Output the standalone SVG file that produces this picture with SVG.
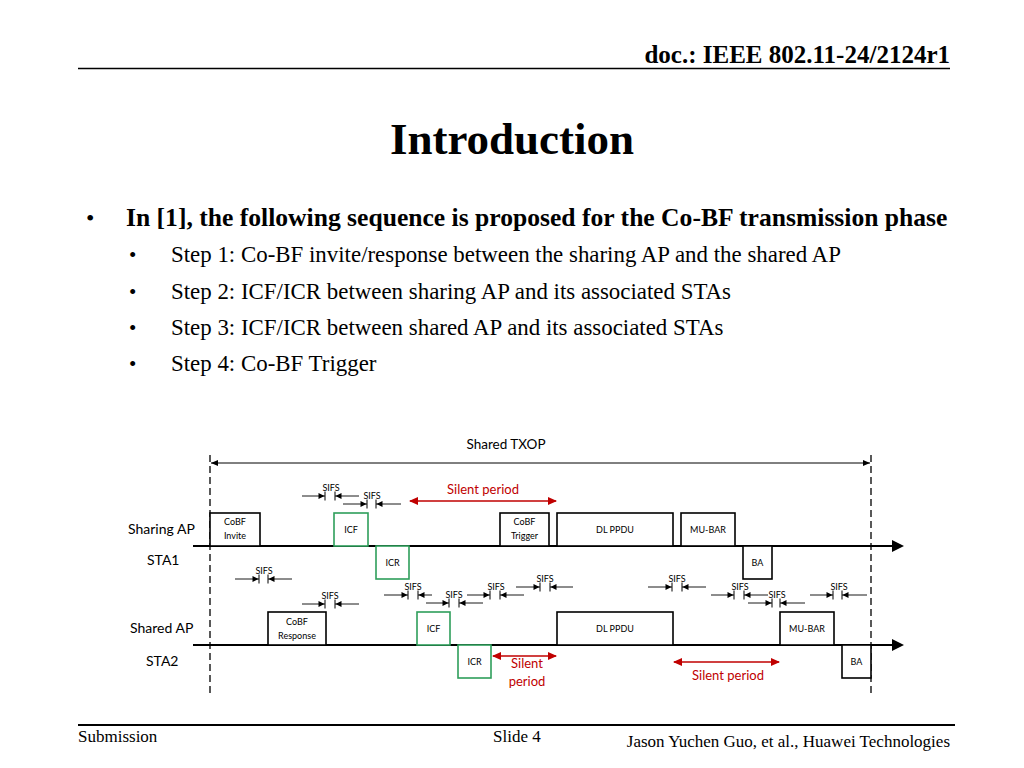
<svg xmlns="http://www.w3.org/2000/svg" width="1024" height="768" viewBox="0 0 1024 768">
<style>
.tm{font-family:"Liberation Serif","Times New Roman",serif;fill:#000}
.df{font-family:Lato,"Liberation Sans",sans-serif;fill:#000}
.bx{fill:#fff;stroke:#000;stroke-width:1.6}
.gb{fill:#fff;stroke:#2e9e5b;stroke-width:1.6}
.bl{font-size:9px;text-anchor:middle}
.sf{font-size:9px;text-anchor:middle}
.sl{stroke:#000;stroke-width:0.9;fill:none;marker-end:url(#sifs)}
.red{fill:#c00000;font-size:13px;text-anchor:middle}
.ra{stroke:#c00000;stroke-width:1.3;fill:none;marker-start:url(#rah);marker-end:url(#rah)}
.tl{stroke:#000;stroke-width:2;fill:none;marker-end:url(#big)}
.dash{stroke:#000;stroke-width:1.3;stroke-dasharray:7,4;fill:none}
</style>
<defs>
<marker id="sifs" markerUnits="userSpaceOnUse" markerWidth="12" markerHeight="12" refX="8.5" refY="6" orient="auto" viewBox="0 0 12 12" overflow="visible">
<path d="M2,3 L8,6 L2,9 z" fill="#000"/>
<line x1="8.5" y1="1.5" x2="8.5" y2="10.5" stroke="#000" stroke-width="1"/>
</marker>
<marker id="rah" markerUnits="userSpaceOnUse" markerWidth="9" markerHeight="8" refX="8" refY="4" orient="auto-start-reverse" viewBox="0 0 9 8">
<path d="M0,0 L9,4 L0,8 z" fill="#c00000"/>
</marker>
<marker id="tx" markerUnits="userSpaceOnUse" markerWidth="7" markerHeight="6" refX="7" refY="3" orient="auto-start-reverse" viewBox="0 0 7 6">
<path d="M0,0 L7,3 L0,6 z" fill="#000"/>
</marker>
<marker id="big" markerUnits="userSpaceOnUse" markerWidth="12" markerHeight="12" refX="1" refY="6" orient="auto" viewBox="0 0 12 12">
<path d="M0,0 L12,6 L0,12 z" fill="#000"/>
</marker>
</defs>
<rect width="1024" height="768" fill="#fff"/>

<!-- slide header / text -->
<g id="header">
<text class="tm" x="950" y="63" font-size="25" font-weight="bold" text-anchor="end">doc.: IEEE 802.11-24/2124r1</text>
<line x1="78" y1="68.5" x2="950" y2="68.5" stroke="#000" stroke-width="1.5"/>
</g>
<g id="title">
<text class="tm" x="512" y="154" font-size="45" font-weight="bold" text-anchor="middle">Introduction</text>
</g>
<g id="bullets">
<text class="tm" x="86" y="226" font-size="24">•</text>
<text class="tm" x="126" y="226" font-size="25.6" font-weight="bold">In [1], the following sequence is proposed for the Co-BF transmission phase</text>
<text class="tm" x="129" y="262" font-size="21">•</text>
<text class="tm" x="171" y="262" font-size="22.9">Step 1: Co-BF invite/response between the sharing AP and the shared AP</text>
<text class="tm" x="129" y="299" font-size="21">•</text>
<text class="tm" x="171" y="299" font-size="22.9">Step 2: ICF/ICR between sharing AP and its associated STAs</text>
<text class="tm" x="129" y="335" font-size="21">•</text>
<text class="tm" x="171" y="335" font-size="22.9">Step 3: ICF/ICR between shared AP and its associated STAs</text>
<text class="tm" x="129" y="371" font-size="21">•</text>
<text class="tm" x="171" y="371" font-size="22.9">Step 4: Co-BF Trigger</text>
</g>
<g id="footer">
<line x1="78" y1="725" x2="955" y2="725" stroke="#000" stroke-width="2"/>
<text class="tm" x="78" y="742" font-size="17">Submission</text>
<text class="tm" x="493" y="742" font-size="17">Slide 4</text>
<text class="tm" x="950" y="747" font-size="17" text-anchor="end">Jason Yuchen Guo, et al., Huawei Technologies</text>
</g>

<!-- diagram -->
<g id="txop">
<text class="df" x="506" y="449" font-size="13.5" text-anchor="middle">Shared TXOP</text>
<line x1="211" y1="463" x2="870" y2="463" stroke="#000" stroke-width="1" marker-start="url(#tx)" marker-end="url(#tx)"/>
</g>
<g id="boundaries">
<line class="dash" x1="210" y1="455" x2="210" y2="693"/>
<line class="dash" x1="871" y1="455" x2="871" y2="693"/>
</g>
<g id="labels">
<text class="df" x="128" y="534" font-size="14">Sharing AP</text>
<text class="df" x="147" y="565" font-size="14">STA1</text>
<text class="df" x="130" y="633" font-size="14">Shared AP</text>
<text class="df" x="146" y="666" font-size="14">STA2</text>
</g>

<g id="timelines">
<line class="tl" x1="193" y1="546" x2="893" y2="546"/>
<line class="tl" x1="193" y1="645" x2="893" y2="645"/>
</g>

<g id="sharing-cobf-invite"><rect class="bx" x="210" y="513" width="50" height="33"/><text class="df bl" x="235" y="525">CoBF</text><text class="df bl" x="235" y="539">Invite</text></g>
<g id="sharing-icf"><rect class="gb" x="334" y="513" width="34" height="33"/><text class="df bl" x="351" y="533">ICF</text></g>
<g id="sharing-cobf-trigger"><rect class="bx" x="500" y="513" width="49" height="33"/><text class="df bl" x="524.5" y="525">CoBF</text><text class="df bl" x="524.5" y="539">Trigger</text></g>
<g id="sharing-dl-ppdu"><rect class="bx" x="557" y="513" width="116" height="33"/><text class="df bl" x="615" y="533">DL PPDU</text></g>
<g id="sharing-mu-bar"><rect class="bx" x="681" y="513" width="54" height="33"/><text class="df bl" x="708" y="533">MU-BAR</text></g>

<g id="sta1-icr"><rect class="gb" x="376" y="546" width="33" height="33"/><text class="df bl" x="392.5" y="566">ICR</text></g>
<g id="sta1-ba"><rect class="bx" x="743" y="546" width="29" height="33"/><text class="df bl" x="757.5" y="566">BA</text></g>

<g id="shared-cobf-response"><rect class="bx" x="268" y="612" width="58" height="33"/><text class="df bl" x="297" y="625">CoBF</text><text class="df bl" x="297" y="639">Response</text></g>
<g id="shared-icf"><rect class="gb" x="417" y="612" width="33" height="33"/><text class="df bl" x="433.5" y="632">ICF</text></g>
<g id="shared-dl-ppdu"><rect class="bx" x="557" y="612" width="116" height="33"/><text class="df bl" x="615" y="632">DL PPDU</text></g>
<g id="shared-mu-bar"><rect class="bx" x="780" y="612" width="54" height="33"/><text class="df bl" x="807" y="632">MU-BAR</text></g>

<g id="sta2-icr"><rect class="gb" x="458" y="645" width="33" height="33"/><text class="df bl" x="474.5" y="665">ICR</text></g>
<g id="sta2-ba"><rect class="bx" x="842" y="645" width="29" height="33"/><text class="df bl" x="856.5" y="665">BA</text></g>

<g id="silent-periods">
<text class="df red" x="483" y="494">Silent period</text>
<path class="ra" d="M410,501 H556"/>
<path class="ra" d="M493,656 H556"/>
<text class="df red" x="527" y="668" font-size="13.5">Silent</text>
<text class="df red" x="527" y="686" font-size="13.5">period</text>
<path class="ra" d="M674,662 H779"/>
<text class="df red" x="728" y="680">Silent period</text>
</g>

<g id="sifs-markers">
<text class="df sf" x="331" y="491">SIFS</text><path class="sl" d="M302,496 H325"/><path class="sl" d="M359,496 H335"/>
<text class="df sf" x="372" y="499">SIFS</text><path class="sl" d="M343,504 H367"/><path class="sl" d="M401,504 H376"/>
<text class="df sf" x="264" y="574">SIFS</text><path class="sl" d="M235,579 H259"/><path class="sl" d="M292,579 H268"/>
<text class="df sf" x="330" y="599">SIFS</text><path class="sl" d="M302,604 H325"/><path class="sl" d="M359,604 H335"/>
<text class="df sf" x="413" y="590">SIFS</text><path class="sl" d="M384,595 H408"/><path class="sl" d="M432,595 H418"/>
<text class="df sf" x="454" y="598">SIFS</text><path class="sl" d="M426,603 H449"/><path class="sl" d="M483,603 H459"/>
<text class="df sf" x="496" y="590">SIFS</text><path class="sl" d="M467,595 H490"/><path class="sl" d="M524,595 H500"/>
<text class="df sf" x="545" y="582">SIFS</text><path class="sl" d="M516,587 H540"/><path class="sl" d="M573,587 H550"/>
<text class="df sf" x="677" y="582">SIFS</text><path class="sl" d="M648,587 H672"/><path class="sl" d="M706,587 H682"/>
<text class="df sf" x="740" y="590">SIFS</text><path class="sl" d="M711,595 H734"/><path class="sl" d="M768,595 H744"/>
<text class="df sf" x="777" y="598">SIFS</text><path class="sl" d="M748,603 H772"/><path class="sl" d="M805,603 H780"/>
<text class="df sf" x="839" y="590">SIFS</text><path class="sl" d="M810,595 H833"/><path class="sl" d="M867,595 H842"/>
</g>
</svg>
